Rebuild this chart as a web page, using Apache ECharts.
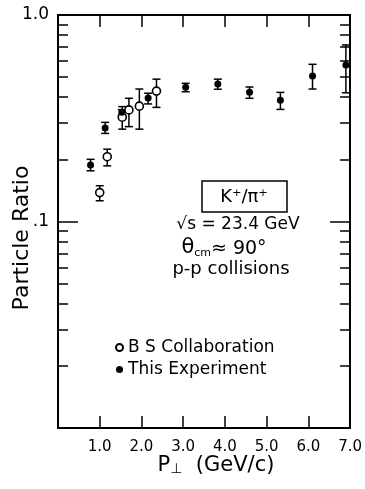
<!DOCTYPE html>
<html><head><meta charset="utf-8">
<script src="https://cdn.jsdelivr.net/npm/echarts@6/dist/echarts.min.js"></script>
<style>html,body{margin:0;padding:0;background:#fff}#c{width:365px;height:489px}</style>
</head><body><div id="c"></div>
<script>
// BS Collaboration (open circles)
const bsX  = [1.00, 1.18, 1.54, 1.70, 1.95, 2.36];
const bsY  = [0.138, 0.206, 0.320, 0.347, 0.362, 0.428];
const bsLo = [0.126, 0.186, 0.280, 0.288, 0.280, 0.357];
const bsHi = [0.149, 0.224, 0.360, 0.395, 0.438, 0.489];
// This Experiment (filled circles)
const exX  = [0.78, 1.13, 1.53, 2.16, 3.06, 3.83, 4.59, 5.33, 6.10, 6.90];
const exY  = [0.188, 0.284, 0.338, 0.396, 0.447, 0.463, 0.422, 0.386, 0.507, 0.573];
const exLo = [0.176, 0.267, 0.328, 0.371, 0.425, 0.437, 0.395, 0.349, 0.438, 0.420];
const exHi = [0.200, 0.302, 0.348, 0.418, 0.467, 0.489, 0.448, 0.422, 0.577, 0.716];
// axis ticks
const xTicks = [1, 2, 3, 4, 5, 6, 7];
const yMajor = [0.01, 0.1, 1];
const yMinor = [0.02,0.03,0.04,0.05,0.06,0.07,0.08,0.09,0.2,0.3,0.4,0.5,0.6,0.7,0.8,0.9];
const yLabels = [0.1, 1];

const FONT = 'DejaVu Sans';
const chart = echarts.init(document.getElementById('c'), null, {renderer:'canvas'});

function errItem(params, api) {
  const x = api.value(0), lo = api.value(1), hi = api.value(2);
  const t = api.coord([x, hi]), b = api.coord([x, lo]);
  const w = 4;
  const st = {stroke:'#000', lineWidth:1.5};
  return {type:'group', children:[
    {type:'line', shape:{x1:t[0],y1:t[1],x2:b[0],y2:b[1]}, style:st},
    {type:'line', shape:{x1:t[0]-w,y1:t[1],x2:t[0]+w,y2:t[1]}, style:st},
    {type:'line', shape:{x1:b[0]-w,y1:b[1],x2:b[0]+w,y2:b[1]}, style:st}
  ]};
}

const logAx = (pos, ticks, len, showLabel) => ({
  type:'log', logBase:10, min:0.01, max:1, position:pos,
  axisLine:{show:true, lineStyle:{color:'#000', width:2}},
  axisTick:{show:true, inside:true, length:len, customValues:ticks, lineStyle:{color:'#000', width:1.5}},
  axisLabel:showLabel ? {show:true, customValues:yLabels, margin:9, color:'#000', fontFamily:FONT, fontSize:17,
     formatter: v => (Math.abs(v-1)<1e-9 ? '1.0' : '.1')} : {show:false},
  splitLine:{show:false}, minorTick:{show:false}
});

const xAx = (pos, showLabel) => ({
  type:'value', min:0, max:7, interval:1, position:pos,
  axisLine:{show:true, onZero:false, lineStyle:{color:'#000', width:2}},
  axisTick:{show:true, inside:true, length:12, customValues:xTicks, lineStyle:{color:'#000', width:1.5}},
  axisLabel:showLabel ? {show:true, customValues:xTicks, margin:12, color:'#000', fontFamily:FONT, fontSize:15,
     formatter: v => v.toFixed(1)} : {show:false},
  splitLine:{show:false}
});

chart.setOption({
  animation:false,
  backgroundColor:'#fff',
  grid:{left:58, right:13, top:15, bottom:61, containLabel:false},
  xAxis:[xAx('bottom', true), xAx('top', false)],
  yAxis:[logAx('left', yMajor, 20, true), logAx('left', yMinor, 10, false),
         logAx('right', yMajor, 20, false), logAx('right', yMinor, 10, false)],
  legend:{
    orient:'vertical', left:110, top:334, itemGap:5, itemWidth:7, itemHeight:7,
    data:[{name:'B S Collaboration', icon:'circle'}, {name:'This Experiment', icon:'circle'}],
    textStyle:{fontFamily:FONT, fontSize:17, color:'#000'}
  },
  series:[
    {type:'custom', name:'bsErr', renderItem:errItem, encode:{x:0, y:[1,2]},
     data: bsX.map((x,i)=>[x, bsLo[i], bsHi[i]]), z:2, silent:true},
    {type:'custom', name:'exErr', renderItem:errItem, encode:{x:0, y:[1,2]},
     data: exX.map((x,i)=>[x, exLo[i], exHi[i]]), z:2, silent:true},
    {type:'scatter', name:'B S Collaboration', symbol:'circle', symbolSize:8,
     itemStyle:{color:'#fff', borderColor:'#000', borderWidth:1.6, opacity:1},
     data: bsX.map((x,i)=>[x, bsY[i]]), z:5},
    {type:'scatter', name:'This Experiment', symbol:'circle', symbolSize:7,
     itemStyle:{color:'#000', opacity:1},
     data: exX.map((x,i)=>[x, exY[i]]), z:5}
  ],
  graphic:[
    {type:'rect', shape:{x:202, y:181, width:85, height:31}, style:{fill:'none', stroke:'#000', lineWidth:1.5}},
    {type:'text', x:244, y:197, style:{text:'K⁺/π⁺', font:'18px "DejaVu Sans"', fill:'#000', align:'center', verticalAlign:'middle'}},
    {type:'text', x:238, y:225, style:{text:'√s = 23.4 GeV', font:'17px "DejaVu Sans"', fill:'#000', align:'center', verticalAlign:'middle'}},
    {type:'text', x:224, y:248, style:{text:'{t|θ}{s|cm}{n|≈ 90°}', fill:'#000', align:'center', verticalAlign:'middle',
       rich:{t:{fontFamily:FONT, fontSize:21, verticalAlign:'bottom'}, s:{fontFamily:FONT, fontSize:11, verticalAlign:'bottom'}, n:{fontFamily:FONT, fontSize:19, verticalAlign:'bottom'}}}},
    {type:'text', x:231, y:269, style:{text:'p-p collisions', font:'18px "DejaVu Sans"', fill:'#000', align:'center', verticalAlign:'middle'}},
    {type:'text', x:22, y:238, rotation:Math.PI/2, style:{text:'Particle Ratio', font:'22px "DejaVu Sans"', fill:'#000', align:'center', verticalAlign:'middle'}},
    {type:'text', x:216, y:466, style:{text:'{a|P}{b|⊥}{a|  (GeV/c)}', fill:'#000', align:'center', verticalAlign:'middle',
       rich:{a:{fontFamily:FONT, fontSize:21, verticalAlign:'bottom'}, b:{fontFamily:FONT, fontSize:14, verticalAlign:'bottom'}}}}
  ]
});
</script></body></html>
